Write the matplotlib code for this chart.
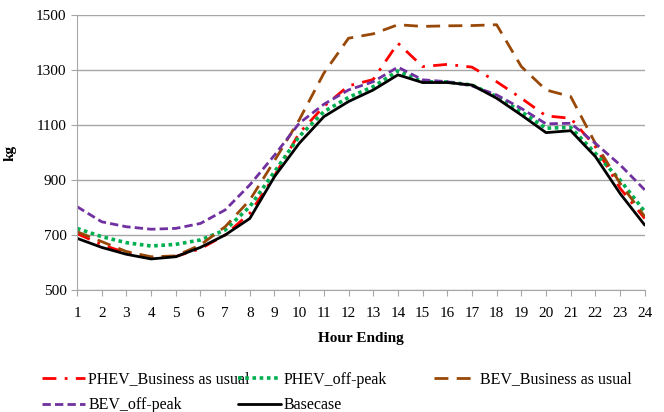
import matplotlib.pyplot as plt

plt.rcParams['font.family'] = ['Liberation Serif', 'DejaVu Serif']

# hourly values (kg)
hours = list(range(1, 25))
phev_bau = [705, 665, 635, 617, 622, 650, 700, 779, 915, 1070, 1167, 1242,
            1265, 1397, 1312, 1320, 1310, 1257, 1197, 1133, 1124, 1021, 870, 760]
phev_off = [724, 694, 672, 660, 666, 682, 718, 803, 930, 1058, 1148, 1200,
            1239, 1296, 1257, 1256, 1245, 1203, 1148, 1088, 1091, 997, 900, 785]
bev_bau = [712, 676, 640, 621, 624, 664, 730, 827, 970, 1118, 1288, 1415,
           1431, 1464, 1458, 1460, 1461, 1464, 1312, 1227, 1203, 1033, 888, 767]
bev_off = [803, 748, 730, 721, 724, 742, 791, 882, 990, 1106, 1175, 1227,
           1257, 1310, 1264, 1257, 1242, 1209, 1160, 1104, 1106, 1033, 955, 864]
basecase = [688, 655, 630, 613, 621, 655, 700, 760, 912, 1033, 1130, 1185,
            1227, 1282, 1254, 1254, 1245, 1197, 1136, 1072, 1079, 985, 851, 736]

fig = plt.figure(figsize=(6.64, 4.12), dpi=100)
ax = fig.add_axes([0.116, 0.296, 0.855, 0.668])

styles = {
    'PHEV_Business as usual': (phev_bau, '#FF0000', (0, (5, 3, 1, 3)), 2.0, 'butt'),
    'PHEV_off-peak': (phev_off, '#00B050', (0, (1, 1)), 2.6, 'butt'),
    'BEV_Business as usual': (bev_bau, '#984807', (0, (5, 3)), 2.0, 'butt'),
    'BEV_off-peak': (bev_off, '#7030A0', (0, (3, 1.5)), 2.0, 'butt'),
    'Basecase': (basecase, 'black', '-', 2.0, 'round'),
}
handles = {}
for name, (vals, col, ls, lw, cap) in styles.items():
    ln, = ax.plot(hours, vals, color=col, linestyle=ls, linewidth=lw,
                  dash_capstyle=cap, solid_capstyle=cap, label=name)
    handles[name] = ln

ax.set_xlim(1, 24)
ax.set_ylim(500, 1500)
ax.set_xticks(hours)
ax.set_yticks(range(500, 1501, 200))
ax.yaxis.grid(True, color='#A6A6A6', linewidth=1)
ax.set_axisbelow(True)
for s in ['top', 'right']:
    ax.spines[s].set_visible(False)
for s in ['left', 'bottom']:
    ax.spines[s].set_color('#A6A6A6')
ax.tick_params(axis='both', colors='#A6A6A6', labelcolor='black',
               labelsize=11, length=4, direction='out')
ax.tick_params(axis='x', pad=8)
ax.set_xlabel('Hour Ending', fontsize=11, fontweight='bold', labelpad=9)
ax.set_ylabel('kg', fontsize=11, fontweight='bold', labelpad=14)

# legend laid out in three columns like the original
cols = [(0.063, ['PHEV_Business as usual', 'BEV_off-peak']),
        (0.358, ['PHEV_off-peak', 'Basecase']),
        (0.653, ['BEV_Business as usual'])]
for x, names in cols:
    fig.legend([handles[n] for n in names], names, loc='upper left',
               bbox_to_anchor=(x, 0.098), frameon=False, fontsize=11.5,
               handlelength=2.7, handletextpad=0.2, labelspacing=0.6,
               borderaxespad=0, borderpad=0)

fig.savefig('out.png', dpi=100)
